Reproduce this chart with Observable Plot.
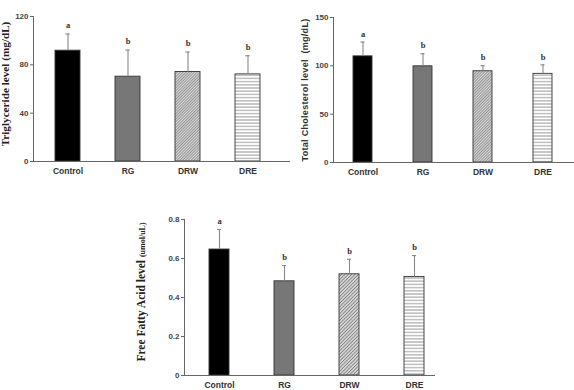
<!DOCTYPE html>
<html><head><meta charset="utf-8">
<script src="https://cdn.jsdelivr.net/npm/d3@7"></script>
<script src="https://cdn.jsdelivr.net/npm/@observablehq/plot@0.6"></script>
<style>
body{margin:0;background:#fff;}
#wrap{position:relative;width:574px;height:390px;overflow:hidden;background:#fff;}
.panel{position:absolute;}
.ylab{position:absolute;transform:translate(-50%,-50%) rotate(-90deg);white-space:pre;font-weight:bold;color:#222;line-height:1;}
</style></head><body><div id="wrap"></div>
<script>
const groups = ["Control", "RG", "DRW", "DRE"];
const letters = ["a", "b", "b", "b"];

// Triglyceride level (mg/dL)
const tgMean = [91.7, 70.2, 74.1, 72.1];
const tgSD = [13.8, 22.0, 16.5, 15.4];
const tgTicks = [0, 40, 80, 120];

// Total Cholesterol level (mg/dL)
const tcMean = [109.8, 99.5, 94.4, 91.7];
const tcSD = [14.8, 13.1, 5.8, 9.3];
const tcTicks = [0, 50, 100, 150];

// Free Fatty Acid level (umol/uL)
const ffaMean = [0.646, 0.483, 0.519, 0.505];
const ffaSD = [0.103, 0.081, 0.077, 0.110];
const ffaTicks = [0, 0.2, 0.4, 0.6, 0.8];

const wrap = document.getElementById("wrap");

function makeChart(cfg) {
  const data = groups.map((g, i) => ({group: g, mean: cfg.mean[i], sd: cfg.sd[i], letter: letters[i]}));
  const [r0, r1] = cfg.range;
  const n = groups.length;
  const step = (r1 - r0) / (n - cfg.pi + 2 * cfg.po);
  const bw = step * (1 - cfg.pi);
  const capInset = Math.max(0, bw / 2 - 2.2);
  const id = cfg.id;
  const fills = ["#000", "#777", `url(#diag-${id})`, `url(#horiz-${id})`];
  const svg = Plot.plot({
    width: cfg.width, height: cfg.height,
    marginLeft: cfg.ml, marginTop: cfg.mt, marginBottom: cfg.mb, marginRight: 0,
    style: {fontFamily: "'Liberation Sans', Arial, sans-serif", fontSize: "8.5px", fontWeight: "bold", color: "#444", background: "transparent", overflow: "visible"},
    x: {domain: groups, range: cfg.range, paddingInner: cfg.pi, paddingOuter: cfg.po, label: null, axis: null},
    y: {domain: [0, cfg.ticks[cfg.ticks.length - 1]], label: null, axis: null},
    color: {domain: groups, range: fills},
    marks: [
      Plot.barY(data, {x: "group", y: "mean", fill: "group", stroke: "#333", strokeWidth: 0.9}),
      Plot.ruleX(data, {x: "group", y1: "mean", y2: d => d.mean + d.sd, stroke: "#888", strokeWidth: 1.1}),
      Plot.tickY(data, {x: "group", y: d => d.mean + d.sd, stroke: "#888", strokeWidth: 1.1, insetLeft: capInset, insetRight: capInset}),
      Plot.text(data, {x: "group", y: d => d.mean + d.sd, text: "letter", dy: cfg.letterDy, fontFamily: "'Liberation Serif', 'Times New Roman', serif", fontWeight: "bold", fontSize: 8.5, fill: "#333"}),
      Plot.axisY({ticks: cfg.ticks, tickSize: 3, tickPadding: 2, stroke: "#666", fill: "#444", fontSize: 8, tickFormat: cfg.fmt}),
      Plot.axisX({tickSize: 0, tickPadding: 6, fill: "#333", fontSize: 8.5}),
      Plot.frame({anchor: "left", stroke: "#666"}),
      Plot.ruleY([0], {stroke: "#666"})
    ]
  });
  const defs = d3.select(svg).insert("defs", ":first-child");
  const p1 = defs.append("pattern").attr("id", `diag-${id}`).attr("width", cfg.diagW).attr("height", cfg.diagW)
    .attr("patternUnits", "userSpaceOnUse").attr("patternTransform", "rotate(45)");
  p1.append("rect").attr("width", cfg.diagW).attr("height", cfg.diagW).attr("fill", "#d4d4d4");
  p1.append("line").attr("x1", 0.4).attr("y1", 0).attr("x2", 0.4).attr("y2", cfg.diagW).attr("stroke", "#808080").attr("stroke-width", 0.8);
  const p2 = defs.append("pattern").attr("id", `horiz-${id}`).attr("width", 4).attr("height", 3.2)
    .attr("patternUnits", "userSpaceOnUse");
  p2.append("rect").attr("width", 4).attr("height", 3.2).attr("fill", "#fff");
  p2.append("line").attr("x1", 0).attr("y1", 1.6).attr("x2", 4).attr("y2", 1.6).attr("stroke", "#9a9a9a").attr("stroke-width", 1);
  const div = document.createElement("div");
  div.className = "panel";
  div.style.left = cfg.left + "px";
  div.style.top = cfg.top + "px";
  div.appendChild(svg);
  wrap.appendChild(div);
}

makeChart({id: "tg", mean: tgMean, sd: tgSD, ticks: tgTicks, fmt: d => d, diagW: 2,
  left: 0, top: 0, width: 290, height: 180, ml: 33, mt: 16, mb: 19,
  range: [33, 281], pi: 0.59, po: 0.33, letterDy: -9});
makeChart({id: "tc", mean: tcMean, sd: tcSD, ticks: tcTicks, fmt: d => d, diagW: 2,
  left: 290, top: 0, width: 284, height: 180, ml: 43, mt: 17, mb: 18,
  range: [43, 283], pi: 0.68, po: 0.33, letterDy: -8});
makeChart({id: "ffa", mean: ffaMean, sd: ffaSD, ticks: ffaTicks, fmt: d => d === 0 ? "0" : d3.format(".1f")(d), diagW: 2.4,
  left: 130, top: 190, width: 305, height: 200, ml: 54, mt: 29, mb: 15,
  range: [54, 319], pi: 0.69, po: 0.37, letterDy: -8});

function addLabel(html, x, y, font, size, extra) {
  const d = document.createElement("div");
  d.className = "ylab";
  d.style.left = x + "px";
  d.style.top = y + "px";
  d.style.fontFamily = font;
  d.style.fontSize = size + "px";
  if (extra) Object.assign(d.style, extra);
  d.innerHTML = html;
  wrap.appendChild(d);
}
addLabel("Triglyceride level (mg/dL)", 6, 84, "'Liberation Serif', 'Times New Roman', serif", 11.2);
addLabel("Total Cholesterol level  (mg/dL)", 305, 90, "'Liberation Sans', Arial, sans-serif", 9, {letterSpacing: "0.3px", color: "#333"});
addLabel("Free Fatty Acid level <span style=\"font-size:8px\">(umol/uL)</span>", 142, 292, "'Liberation Serif', 'Times New Roman', serif", 11.5);
</script>
</body></html>
